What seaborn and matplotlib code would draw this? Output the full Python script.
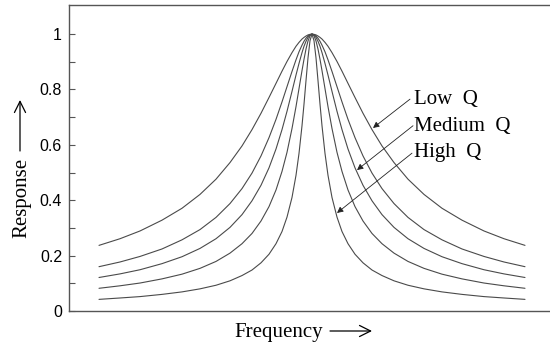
import matplotlib
matplotlib.use("Agg")
import matplotlib.pyplot as plt
import seaborn as sns
import pandas as pd

# Detuning from the resonant frequency (one side; the curves are symmetric)
detuning = [0, 2, 4, 6, 8, 10, 13, 16, 20, 25, 30, 36, 43, 51, 60, 70, 82,
            96, 112, 130, 150, 172, 192, 213]

# Normalised response of each resonator, widest (low Q) to narrowest (high Q)
resp_low_q = [1.000, 0.999, 0.997, 0.993, 0.988, 0.982, 0.970, 0.956, 0.933,
              0.901, 0.866, 0.822, 0.771, 0.714, 0.655, 0.596, 0.536, 0.476,
              0.421, 0.371, 0.328, 0.289, 0.261, 0.237]
resp_q2 = [1.000, 0.998, 0.993, 0.985, 0.974, 0.960, 0.936, 0.907, 0.865,
           0.810, 0.755, 0.692, 0.626, 0.560, 0.498, 0.442, 0.388, 0.338,
           0.294, 0.257, 0.224, 0.197, 0.177, 0.160]
resp_medium_q = [1.000, 0.997, 0.988, 0.974, 0.956, 0.933, 0.894, 0.852, 0.793,
                 0.721, 0.655, 0.585, 0.517, 0.454, 0.398, 0.348, 0.302, 0.261,
                 0.226, 0.196, 0.171, 0.149, 0.134, 0.121]
resp_q4 = [1.000, 0.994, 0.975, 0.946, 0.909, 0.868, 0.803, 0.738, 0.659,
           0.573, 0.504, 0.437, 0.377, 0.325, 0.280, 0.243, 0.209, 0.179,
           0.154, 0.133, 0.116, 0.101, 0.091, 0.082]
resp_high_q = [1.000, 0.976, 0.914, 0.832, 0.747, 0.669, 0.569, 0.490, 0.410,
               0.339, 0.287, 0.243, 0.205, 0.174, 0.148, 0.128, 0.109, 0.093,
               0.080, 0.069, 0.060, 0.052, 0.047, 0.042]

curve_names = ["Low Q", "Q2", "Medium Q", "Q4", "High Q"]
curve_values = [resp_low_q, resp_q2, resp_medium_q, resp_q4, resp_high_q]

ytick_values = [0, 0.2, 0.4, 0.6, 0.8, 1.0]
ytick_labels = ["0", "0.2", "0.4", "0.6", "0.8", "1"]
yminor_values = [0.1, 0.3, 0.5, 0.7, 0.9]

# Build long-form table, mirroring each half curve about the centre
rows = []
for name, vals in zip(curve_names, curve_values):
    xs = [-d for d in reversed(detuning[1:])] + detuning
    ys = list(reversed(vals[1:])) + vals
    for x, y in zip(xs, ys):
        rows.append({"freq": x, "response": y, "curve": name})
df = pd.DataFrame(rows)

sns.set_theme(style="white")
plt.rcParams["font.family"] = ["Liberation Sans", "DejaVu Sans"]

W, H = 550, 346
fig = plt.figure(figsize=(W / 100, H / 100), dpi=100)
ax = fig.add_axes([69 / W, 1 - 311 / H, 1 - 69 / W, 306 / H])

sns.lineplot(data=df, x="freq", y="response", hue="curve", units="curve",
             estimator=None, palette=["#4a4a4a"] * 5, linewidth=0.8,
             legend=False, ax=ax)

ax.set_xlim(-243, 238)
ax.set_ylim(0, 1.105)
ax.set_xticks([])
ax.set_yticks(ytick_values)
ax.set_yticklabels(ytick_labels)
ax.set_yticks(yminor_values, minor=True)
ax.tick_params(axis="y", which="both", direction="in", length=4, width=0.8,
               color="#555555", labelsize=11.5, pad=5, left=True)
for lbl in ax.get_yticklabels():
    lbl.set_color("black")

for side in ["left", "bottom", "top"]:
    ax.spines[side].set_visible(True)
    ax.spines[side].set_color("#555555")
    ax.spines[side].set_linewidth(1.0)
ax.spines["right"].set_visible(False)

serif = ["Liberation Serif", "DejaVu Serif"]
ax.set_xlabel("Frequency", family=serif, fontsize=15, color="black")
ax.xaxis.label.set(ha="center", va="center")
ax.xaxis.set_label_coords(0.4366, -0.070)
ax.set_ylabel("Response", family=serif, fontsize=15, color="black")
ax.yaxis.label.set(ha="center", va="center")
ax.yaxis.set_label_coords(-0.098, 0.369)

# Long direction arrows next to the axis titles
arrow_style = dict(arrowstyle="->, head_length=0.4, head_width=0.2",
                   color="black", lw=0.9, mutation_scale=20,
                   shrinkA=0, shrinkB=0)
ax.annotate("", xy=(372 / W, 1 - 331 / H), xytext=(330 / W, 1 - 331 / H),
            xycoords="figure fraction", textcoords="figure fraction",
            arrowprops=arrow_style, annotation_clip=False)
ax.annotate("", xy=(20 / W, 1 - 100 / H), xytext=(20 / W, 1 - 151 / H),
            xycoords="figure fraction", textcoords="figure fraction",
            arrowprops=arrow_style, annotation_clip=False)

# Curve labels with pointer arrows
labels = [("Low  Q", 102, 0.762, 98, 0.765, 61, 0.661),
          ("Medium  Q", 102, 0.668, 101, 0.669, 45, 0.509),
          ("High  Q", 102, 0.571, 100, 0.570, 25, 0.354)]
for text, tx, ty, sx, sy, px, py in labels:
    ax.text(tx, ty, text, family=serif, fontsize=15, ha="left",
            va="center", color="black")
    ax.annotate("", xy=(px, py), xytext=(sx, sy),
                arrowprops=dict(arrowstyle="-|>", color="#222222", lw=0.6,
                                mutation_scale=9, shrinkA=0, shrinkB=0))

fig.savefig("out.png", dpi=100)
